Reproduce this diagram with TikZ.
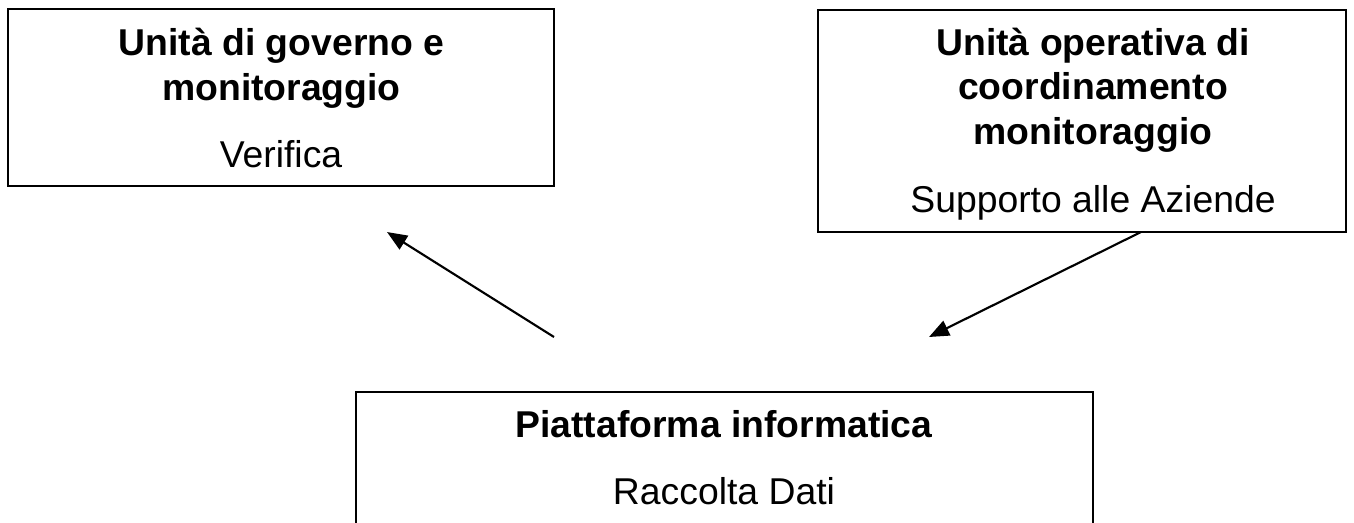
\documentclass[tikz,border=0pt]{standalone}
\usepackage{fontspec}
\setmainfont{Liberation Sans}
\usetikzlibrary{arrows.meta}
\tikzset{
  box/.style={draw=black,line width=1.5pt,fill=white},
  label/.style={font=\fontsize{28}{28}\selectfont,anchor=base,inner sep=0pt,text=black},
  head/.style={label,font=\fontsize{28}{28}\selectfont\bfseries},
  conn/.style={draw=black,line width=1.6pt,-{Triangle[length=15pt,width=12pt]}}
}
\begin{document}
\begin{tikzpicture}[x=0.75pt,y=-0.75pt]
\useasboundingbox (0,0) rectangle (1354,522);
\fill[white] (0,0) rectangle (1354,522);
\draw[box] (8,9) rectangle (554,186);
\draw[box] (818,10) rectangle (1346,232);
\draw[box] (356,392) rectangle (1093,530);
\node[head] (a1) at (281.5,55) {Unità di governo e};
\node[head] (a2) at (281.5,100) {monitoraggio};
\node[label] (a3) at (281,167) {Verifica};
\node[head] (b1) at (1093,55) {Unità operativa di};
\node[head] (b2) at (1093,99) {coordinamento};
\node[head] (b3) at (1093,144) {monitoraggio};
\node[label] (b4) at (1093,212) {Supporto alle Aziende};
\node[head] (c1) at (724,437) {Piattaforma informatica};
\node[label] (c2) at (724,504) {Raccolta Dati};
\coordinate (s1) at (554,337); \coordinate (e1) at (387,232);
\coordinate (s2) at (1141,232); \coordinate (e2) at (929,337);
\draw[conn] (s1) -- (e1);
\draw[conn] (s2) -- (e2);
\end{tikzpicture}
\end{document}
